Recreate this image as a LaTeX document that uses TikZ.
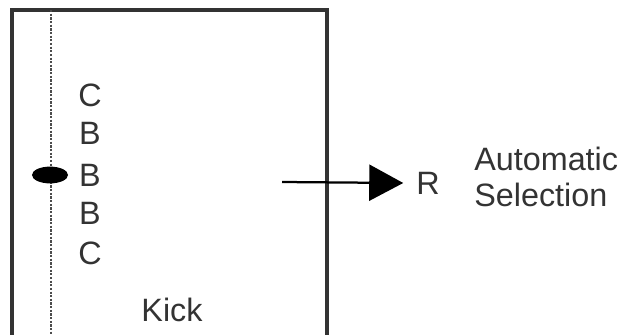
\documentclass[tikz,border=0pt]{standalone}
\usepackage{fontspec}
\setmainfont{Liberation Sans}
\usetikzlibrary{arrows.meta,positioning,shapes.geometric}
\tikzstyle{letter} = [inner sep=0pt, font=\fontsize{23}{26}\selectfont, text=black!80]
\tikzstyle{frame} = [line width=2.2pt, draw=black!80]
\tikzstyle{arrow} = [line width=1.6pt, -{Triangle[length=0.85cm,width=0.9cm]}]

\begin{document}
\begin{tikzpicture}[x=0.025cm,y=-0.025cm]
\useasboundingbox (0,0) rectangle (628,334);
% open box, cut off at the bottom
\draw [frame] (12,340) -- (12,10) -- (327,10) -- (327,340);
\draw [line width=2pt, black!70, dash pattern=on 1.6pt off 1pt] (51,10) -- (51,334);
\node (blob) [ellipse, fill=black, minimum width=0.9cm, minimum height=0.42cm, inner sep=0pt] at (50,175) {};

\node (c1) [letter] at (90,95) {C};
\node (b1) [letter] at (90,133) {B};
\node (b2) [letter] at (90,175) {B};
\node (b3) [letter] at (90,213) {B};
\node (c2) [letter] at (90,253) {C};
\node (kick) [letter] at (172,310) {Kick};

\coordinate (start) at (282,182);
\node (r) [letter] at (428,183) {R};
\node (auto) [letter, align=left, anchor=west] at (474,177) {Automatic\\Selection};

\draw [arrow] (start) -- ([xshift=-0.32cm]r.west);
\end{tikzpicture}
\end{document}
